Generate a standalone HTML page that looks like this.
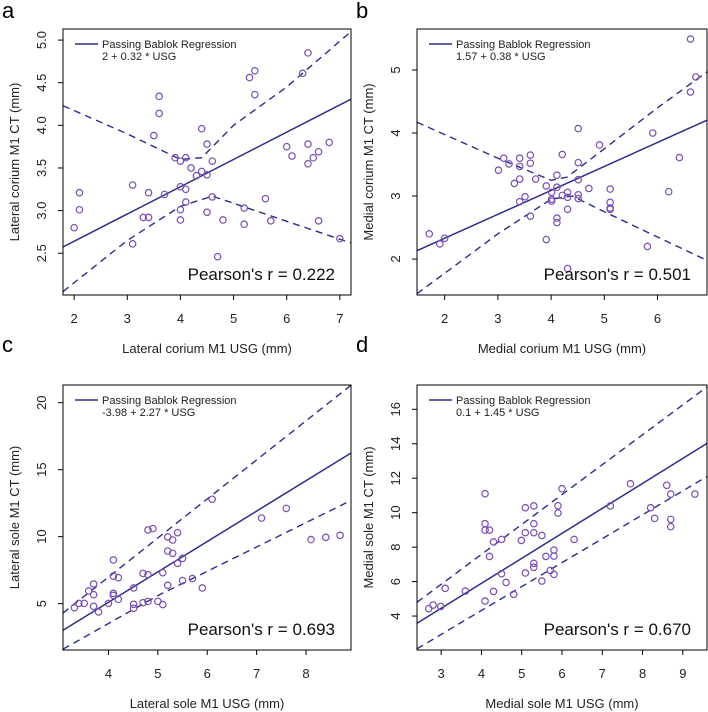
<!DOCTYPE html>
<html><head><meta charset="utf-8"><style>
html,body{margin:0;padding:0;background:#fff;}
svg{display:block;font-family:"Liberation Sans",Arial,sans-serif;}
</style></head><body>
<svg id="fig" width="708" height="712" viewBox="0 0 708 712" xmlns="http://www.w3.org/2000/svg"></svg>
<script>
// Panel a data
const aX=[2.0,2.1,2.1,3.1,3.1,3.3,3.4,3.4,3.5,3.6,3.6,3.7,3.9,4.0,4.0,4.0,4.0,4.1,4.1,4.1,4.2,4.3,4.4,4.4,4.5,4.5,4.5,4.6,4.6,4.7,4.8,5.2,5.2,5.3,5.4,5.4,5.6,5.7,6.0,6.1,6.3,6.4,6.4,6.4,6.5,6.6,6.6,6.8,7.0];
const aY=[2.8,3.21,3.01,3.3,2.61,2.92,2.92,3.21,3.88,4.34,4.14,3.19,3.62,3.58,3.28,3.01,2.89,3.62,3.25,3.1,3.5,3.41,3.96,3.46,3.78,3.42,2.98,3.58,3.16,2.46,2.89,3.03,2.84,4.56,4.64,4.36,3.14,2.88,3.75,3.64,4.61,4.85,3.78,3.55,3.62,3.69,2.88,3.8,2.67];
const aUpX=[1.79,3,4,4.4,5,6,7.21], aUpY=[4.23,3.9,3.6,3.62,4.0,4.45,5.1];
const aLoX=[1.79,3,4,4.6,5.5,7.21], aLoY=[2.05,2.65,3.05,3.17,2.98,2.62];
const aTicksX=[2,3,4,5,6,7], aTicksY=[2.5,3.0,3.5,4.0,4.5,5.0];
// Panel b data
const bX=[1.71,1.91,2.0,3.01,3.11,3.21,3.31,3.41,3.41,3.41,3.41,3.51,3.61,3.61,3.61,3.71,3.91,3.91,4.01,4.01,4.01,4.11,4.11,4.11,4.11,4.21,4.21,4.31,4.31,4.31,4.31,4.51,4.51,4.51,4.51,4.51,4.71,4.91,5.11,5.11,5.11,5.11,5.81,5.91,6.21,6.41,6.62,6.62,6.72];
const bY=[2.40,2.24,2.33,3.41,3.60,3.51,3.20,3.60,3.47,3.27,2.91,2.99,3.65,3.52,2.68,3.27,3.16,2.31,3.06,2.95,2.92,3.33,3.14,2.65,2.58,3.66,3.01,3.06,2.98,2.79,1.85,4.07,3.53,3.26,3.02,2.96,3.12,3.81,3.11,2.90,2.81,2.79,2.2,4.0,3.07,3.61,5.49,4.65,4.89];
const bUpX=[1.48,3,4,4.3,5,6,6.93], bUpY=[4.17,3.6,3.25,3.3,3.75,4.4,4.97];
const bLoX=[1.48,3,4,4.4,5,6,6.93], bLoY=[1.45,2.4,2.95,3.0,2.75,2.35,1.98];
const bTicksX=[2,3,4,5,6], bTicksY=[2,3,4,5];
// Panel c data
const cX=[3.31,3.40,3.51,3.60,3.70,3.70,3.70,3.80,4.0,4.10,4.10,4.10,4.10,4.20,4.20,4.51,4.51,4.51,4.70,4.70,4.80,4.80,4.80,4.90,5.0,5.10,5.10,5.20,5.20,5.20,5.30,5.30,5.40,5.40,5.50,5.50,5.70,5.90,6.10,7.10,7.60,8.10,8.40,8.69];
const cY=[4.70,5.02,5.02,5.95,6.47,5.67,4.80,4.38,5.02,8.26,7.06,5.77,5.62,6.94,5.32,6.17,4.95,4.65,7.26,5.07,10.5,7.16,5.17,10.6,5.17,7.31,4.93,9.98,8.93,6.37,9.75,8.76,10.3,8.01,8.38,6.72,6.87,6.17,12.79,11.39,12.11,9.78,9.95,10.1];
const cUpX=[3.08,5,8.91], cUpY=[4.3,9.9,21.3];
const cLoX=[3.08,5,8.91], cLoY=[1.6,5.6,12.7];
const cTicksX=[4,5,6,7,8], cTicksY=[5,10,15,20];
// Panel d data
const dX=[2.69,2.80,2.99,3.10,3.60,4.09,4.09,4.09,4.09,4.20,4.20,4.30,4.30,4.50,4.50,4.61,4.80,4.99,5.09,5.09,5.09,5.30,5.30,5.30,5.30,5.30,5.50,5.50,5.60,5.71,5.80,5.80,5.80,5.90,5.90,6.0,6.30,7.20,7.70,8.20,8.30,8.60,8.70,8.70,8.70,9.30];
const dY=[4.43,4.64,4.56,5.61,5.45,11.1,9.36,8.99,4.87,8.99,7.46,8.30,5.43,8.45,6.46,5.95,5.26,8.39,10.29,8.84,6.50,10.39,9.36,8.84,7.06,6.83,8.68,6.03,7.46,6.65,7.83,7.48,6.42,10.4,9.98,11.39,8.45,10.39,11.68,10.29,9.67,11.59,11.08,9.61,9.19,11.08];
const dUpX=[2.4,9.6], dUpY=[4.8,17.3];
const dLoX=[2.4,9.6], dLoY=[2.1,12.1];
const dTicksX=[3,4,5,6,7,8,9], dTicksY=[4,6,8,10,12,14,16];

const NS="http://www.w3.org/2000/svg";
const svg=document.getElementById('fig');
const LINE="#2b2d8a", PT="#7a4fb0";
function mk(tag,attrs,parent){const e=document.createElementNS(NS,tag);for(const k in attrs)e.setAttribute(k,attrs[k]);(parent||svg).appendChild(e);return e;}

const panels=[
 {id:'a',letter:'a',ly:18,L:63,T:29,R:351,B:295,xmin:1.79,xmax:7.21,ymin:2.01,ymax:5.13,X:aX,Y:aY,uX:aUpX,uY:aUpY,lX:aLoX,lY:aLoY,tx:aTicksX,ty:aTicksY,fmt:v=>v.toFixed(1),a0:2,a1:0.32,eq:"2 + 0.32 * USG",r:"0.222",xt:"Lateral corium M1 USG (mm)",yt:"Lateral corium M1 CT (mm)"},
 {id:'b',letter:'b',ly:18,L:417,T:29,R:707,B:295,xmin:1.48,xmax:6.93,ymin:1.43,ymax:5.65,X:bX,Y:bY,uX:bUpX,uY:bUpY,lX:bLoX,lY:bLoY,tx:bTicksX,ty:bTicksY,fmt:v=>String(v),a0:1.57,a1:0.38,eq:"1.57 + 0.38 * USG",r:"0.501",xt:"Medial corium M1 USG (mm)",yt:"Medial corium M1 CT (mm)"},
 {id:'c',letter:'c',ly:352,L:63,T:385,R:351,B:650,xmin:3.08,xmax:8.91,ymin:1.54,ymax:21.32,X:cX,Y:cY,uX:cUpX,uY:cUpY,lX:cLoX,lY:cLoY,tx:cTicksX,ty:cTicksY,fmt:v=>String(v),a0:-3.98,a1:2.27,eq:"-3.98 + 2.27 * USG",r:"0.693",xt:"Lateral sole M1 USG (mm)",yt:"Lateral sole M1 CT (mm)"},
 {id:'d',letter:'d',ly:352,L:417,T:385,R:707,B:650,xmin:2.40,xmax:9.60,ymin:2.03,ymax:17.41,X:dX,Y:dY,uX:dUpX,uY:dUpY,lX:dLoX,lY:dLoY,tx:dTicksX,ty:dTicksY,fmt:v=>String(v),a0:0.1,a1:1.45,eq:"0.1 + 1.45 * USG",r:"0.670",xt:"Medial sole M1 USG (mm)",yt:"Medial sole M1 CT (mm)"}
];

panels.forEach(p=>{
 const g=mk('g',{});
 
 
 const sx=v=>p.L+(v-p.xmin)/(p.xmax-p.xmin)*(p.R-p.L);
 const sy=v=>p.B-(v-p.ymin)/(p.ymax-p.ymin)*(p.B-p.T);
 const cid='clip-'+p.id;
 const cp=mk('clipPath',{id:cid},g); mk('rect',{x:p.L,y:p.T,width:p.R-p.L,height:p.B-p.T},cp);
 const plot=mk('g',{'clip-path':'url(#'+cid+')'},g);
 const lt=mk('text',{x:p.L-61,y:p.ly,'font-size':22},g); lt.textContent=p.letter;
 
 
 const rl=mk('line',{x1:sx(p.xmin),y1:sy(p.a0+p.a1*p.xmin),x2:sx(p.xmax),y2:sy(p.a0+p.a1*p.xmax),stroke:LINE,'stroke-width':1.5},plot);
 
 
 [[p.uX,p.uY,'ci-upper'],[p.lX,p.lY,'ci-lower']].forEach(([xs,ys,n])=>{
  const pts=xs.map((x,i)=>sx(x)+','+sy(ys[i])).join(' ');
  const pl=mk('polyline',{points:pts,fill:'none',stroke:LINE,'stroke-width':1.4,'stroke-dasharray':'7,5'},plot);
  
  
 });
 p.X.forEach((x,i)=>{
  const c=mk('circle',{cx:sx(x),cy:sy(p.Y[i]),r:3.2,fill:'none',stroke:PT,'stroke-width':1.2},plot);
  
  
 });
 const box=mk('rect',{x:p.L,y:p.T,width:p.R-p.L,height:p.B-p.T,fill:'none',stroke:'#000','stroke-width':1},g);
 
 
 p.tx.forEach(v=>{
  mk('line',{x1:sx(v),y1:p.B,x2:sx(v),y2:p.B+5,stroke:'#000'},g);
  const t=mk('text',{x:sx(v),y:p.B+28,'font-size':13,'text-anchor':'middle',fill:'#222'},g); t.textContent=String(v);
  
  
 });
 p.ty.forEach(v=>{
  mk('line',{x1:p.L,y1:sy(v),x2:p.L-5,y2:sy(v),stroke:'#000'},g);
  const t=mk('text',{x:0,y:0,'font-size':13,'text-anchor':'middle',fill:'#222',transform:`translate(${p.L-17},${sy(v)}) rotate(-90)`},g); t.textContent=p.fmt(v);
  
  
 });
 const xt=mk('text',{x:(p.L+p.R)/2,y:p.B+58,'font-size':13,'text-anchor':'middle',fill:'#222'},g); xt.textContent=p.xt;
 
 
 const yt=mk('text',{x:0,y:0,'font-size':13,'text-anchor':'middle',fill:'#222',transform:`translate(${p.L-44},${(p.T+p.B)/2}) rotate(-90)`},g); yt.textContent=p.yt;
 
 
 const lg=mk('g',{},g);
 
 
 mk('line',{x1:p.L+12,y1:p.T+15,x2:p.L+35,y2:p.T+15,stroke:LINE,'stroke-width':1.5},lg);
 const l1=mk('text',{x:p.L+39,y:p.T+19,'font-size':11,fill:'#222'},lg); l1.textContent="Passing Bablok Regression";
 const l2=mk('text',{x:p.L+39,y:p.T+31,'font-size':11,fill:'#222'},lg); l2.textContent=p.eq;
 const pr=mk('text',{x:p.R-16,y:p.B-15,'font-size':17,'text-anchor':'end',fill:'#111'},g); pr.textContent="Pearson's r = "+p.r;
 
 
});
</script>
</body></html>
